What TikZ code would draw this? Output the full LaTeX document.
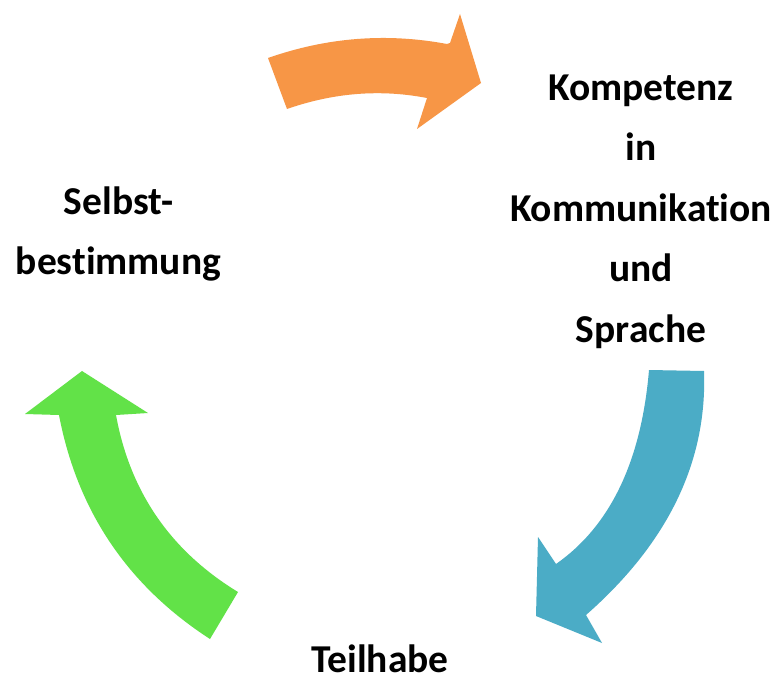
\documentclass[tikz,border=0pt]{standalone}
\usepackage{fontspec}
\setmainfont{Carlito}[Ligatures={NoCommon,NoRare,NoContextual}]
\definecolor{arrOrange}{RGB}{247,150,70}
\definecolor{arrBlue}{RGB}{75,172,198}
\definecolor{arrGreen}{RGB}{98,226,72}
\begin{document}
\begin{tikzpicture}[x=1pt,y=-1pt,
  lbl/.style={font=\bfseries\fontsize{39.5}{60.5}\selectfont, align=center, inner sep=0pt, anchor=base}]
\useasboundingbox[fill=white] (0,0) rectangle (776,679);
% orange arrow
\fill[arrOrange] (268,58) .. controls (327,37.3) and (386.7,32.7) .. (447,44) -- (450,43) -- (460,14) -- (481,83) -- (417,129) -- (427,98)
  .. controls (380.3,89) and (333.7,92.7) .. (287,109) -- cycle;
% blue arrow
\fill[arrBlue] (649,370) -- (704,371) .. controls (707.3,461.7) and (668,543) .. (586,615) -- (602,643) -- (536,616) -- (538,537) -- (556,564)
  .. controls (610.3,526) and (641.3,461.3) .. (649,370) -- cycle;
% green arrow
\fill[arrGreen] (238,592) .. controls (170.7,551) and (130,492) .. (116,415) -- (148,413) -- (82,371) -- (25,414) -- (59,415)
  .. controls (77.3,511) and (127.7,585.7) .. (210,639) -- cycle;
% labels (base anchor = baseline of the last line)
\node[lbl] (komp) at (641,342) {Kompetenz\\in\\Kommunikation\\und\\Sprache};
\node[lbl] (selbst) at (118.5,274.5) {Selbst-\\bestimmung};
\node[lbl] (teil) at (380,672) {Teilhabe};
\end{tikzpicture}
\end{document}
